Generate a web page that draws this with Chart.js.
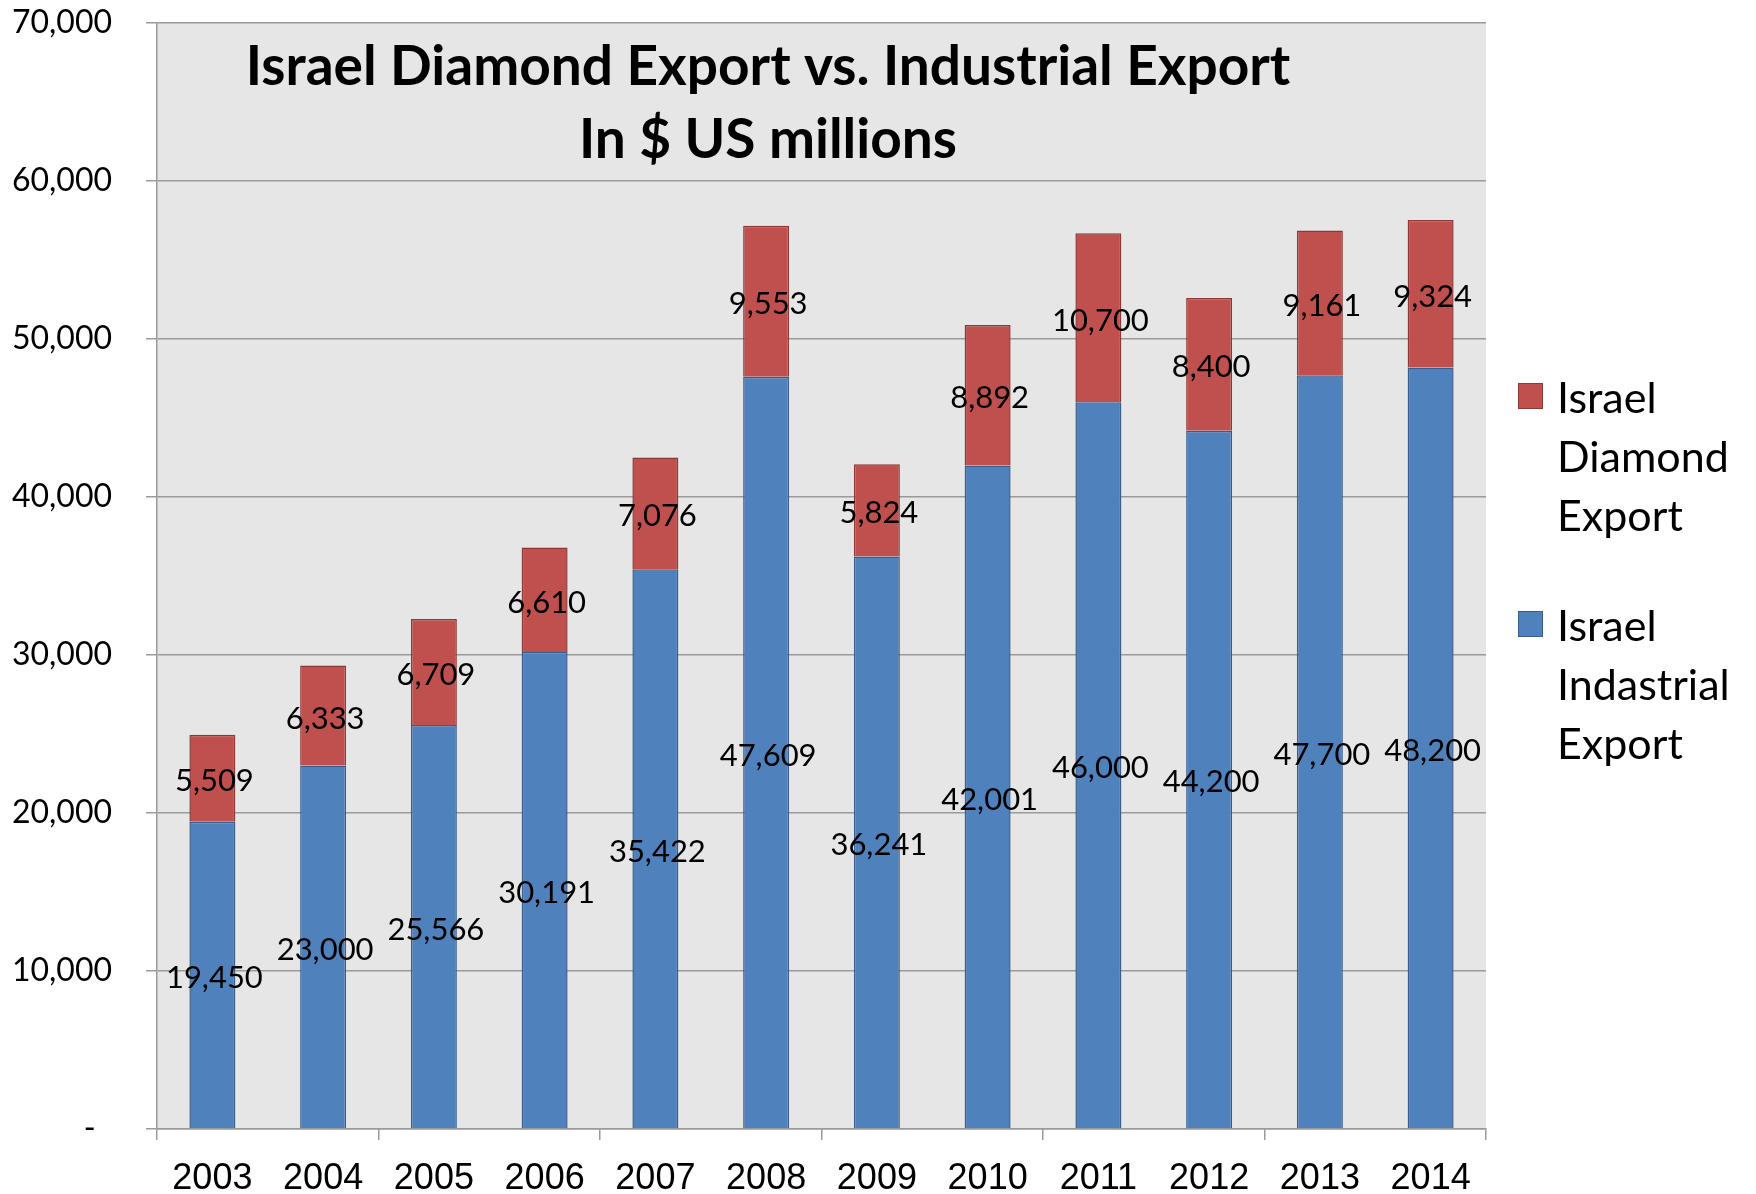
<!DOCTYPE html>
<html>
<head>
<meta charset="utf-8">
<title>Israel Diamond Export vs. Industrial Export</title>
<script src="https://cdn.jsdelivr.net/npm/chart.js@4"></script>
<style>
  body {
    margin: 0;
    background: #ffffff;
  }
  #wrap {
    position: relative;
    width: 1756px;
    height: 1194px;
  }
  #legend {
    position: absolute;
    left: 1518px;
    top: 367px;
    font-family: Lato, sans-serif;
    font-size: 43px;
    line-height: 59px;
    color: #000;
  }
  .legend-item {
    position: relative;
    padding-left: 39px;
    width: 195px;
    margin-bottom: 51px;
  }
  .legend-box {
    position: absolute;
    left: 0;
    top: 16px;
    width: 23px;
    height: 24px;
    border: 1.5px solid;
  }
</style>
</head>
<body>
<div id="wrap">
  <canvas id="exportChart" width="1756" height="1194"></canvas>
  <div id="legend"></div>
</div>
<script>
// Data
const years = ["2003", "2004", "2005", "2006", "2007", "2008", "2009", "2010", "2011", "2012", "2013", "2014"];
const industrialExport = [19450, 23000, 25566, 30191, 35422, 47609, 36241, 42001, 46000, 44200, 47700, 48200];
const diamondExport = [5509, 6333, 6709, 6610, 7076, 9553, 5824, 8892, 10700, 8400, 9161, 9324];
const titleLines = ["Israel Diamond Export vs. Industrial Export", "In $ US millions"];
const seriesNames = ["Israel Indastrial Export", "Israel Diamond Export"];

document.addEventListener("DOMContentLoaded", function () {
  const gridColor = "#9a9a9a";

  // Grey plot background
  const plotBackground = {
    id: "plotBackground",
    beforeDraw(chart) {
      const { ctx, chartArea } = chart;
      ctx.save();
      ctx.fillStyle = "#e6e6e6";
      ctx.fillRect(chartArea.left, chartArea.top, chartArea.right - chartArea.left, chartArea.bottom - chartArea.top);
      ctx.restore();
    },
  };

  // Value labels in the middle of each segment
  const segmentLabels = {
    id: "segmentLabels",
    afterDatasetsDraw(chart) {
      const ctx = chart.ctx;
      ctx.save();
      ctx.font = "31px Lato";
      ctx.fillStyle = "#000";
      ctx.textAlign = "center";
      ctx.textBaseline = "middle";
      chart.data.datasets.forEach((ds, i) => {
        const meta = chart.getDatasetMeta(i);
        meta.data.forEach((bar, j) => {
          const p = bar.getProps(["x", "y", "base"], true);
          ctx.fillText(ds.data[j].toLocaleString("en-US"), p.x + 2, (p.y + p.base) / 2 + 3);
        });
      });
      ctx.restore();
    },
  };

  // Title sits inside the plot area
  const innerTitle = {
    id: "innerTitle",
    afterDraw(chart) {
      const ctx = chart.ctx;
      ctx.save();
      ctx.font = "bold 55px Lato";
      ctx.fillStyle = "#000";
      ctx.textAlign = "center";
      ctx.textBaseline = "middle";
      ctx.fillText(titleLines[0], 768, 67);
      ctx.fillText(titleLines[1], 768, 140);
      ctx.restore();
    },
  };

  const chart = new Chart(document.getElementById("exportChart"), {
    type: "bar",
    data: {
      labels: years,
      datasets: [
        {
          label: seriesNames[0],
          data: industrialExport,
          backgroundColor: "#4f81bd",
          borderColor: "#385d8a",
          borderWidth: 1.5,
          categoryPercentage: 1,
          barPercentage: 0.415,
        },
        {
          label: seriesNames[1],
          data: diamondExport,
          backgroundColor: "#c0504d",
          borderColor: "#8c3836",
          borderWidth: 1.5,
          categoryPercentage: 1,
          barPercentage: 0.415,
        },
      ],
    },
    options: {
      responsive: false,
      animation: false,
      layout: {
        padding: { top: 23, right: 270, bottom: 0, left: 0 },
      },
      plugins: {
        legend: { display: false },
        title: { display: false },
        tooltip: { enabled: false },
      },
      scales: {
        x: {
          stacked: true,
          afterFit: (scale) => {
            scale.height = 65;
            scale.paddingLeft = 0;
            scale.paddingRight = 0;
          },
          border: { display: true, color: gridColor, width: 1.5 },
          grid: {
            offset: true,
            drawOnChartArea: false,
            drawTicks: true,
            tickLength: 11,
            lineWidth: 1.5,
            color: (c) => (c.index === undefined || c.index % 2 === 0 ? gridColor : "rgba(0,0,0,0)"),
          },
          ticks: {
            color: "#000",
            padding: 17,
            font: { family: "Liberation Sans", size: 36 },
            maxRotation: 0,
          },
        },
        y: {
          stacked: true,
          min: 0,
          max: 70000,
          afterFit: (scale) => {
            scale.width = 157;
            scale.paddingTop = 0;
            scale.paddingBottom = 0;
          },
          border: { display: true, color: gridColor, width: 1.5 },
          grid: {
            color: gridColor,
            lineWidth: 1.5,
            tickLength: 11,
          },
          ticks: {
            stepSize: 10000,
            color: "#000",
            padding: 34,
            font: { family: "Lato", size: 32 },
            // zero shows as an accounting dash, set in from the edge
            callback: (v) => (v === 0 ? "-  " : v.toLocaleString("en-US")),
          },
        },
      },
    },
    plugins: [plotBackground, segmentLabels, innerTitle],
  });

  // Legend on the right, diamond series first
  const legend = document.getElementById("legend");
  chart.data.datasets
    .slice()
    .reverse()
    .forEach((ds) => {
      const item = document.createElement("div");
      item.className = "legend-item";
      const box = document.createElement("span");
      box.className = "legend-box";
      box.style.backgroundColor = ds.backgroundColor;
      box.style.borderColor = ds.borderColor;
      const text = document.createElement("span");
      text.textContent = ds.label;
      item.appendChild(box);
      item.appendChild(text);
      legend.appendChild(item);
    });
});
</script>
</body>
</html>
